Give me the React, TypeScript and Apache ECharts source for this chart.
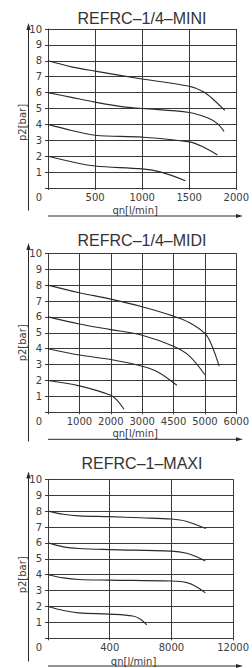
import React, { useEffect, useRef } from 'react';
import * as echarts from 'echarts';

// ---- data ----
const chartTitles = ['REFRC–1/4–MINI', 'REFRC–1/4–MIDI', 'REFRC–1–MAXI'];
const xMaxes = [2000, 6000, 12000];
const xIntervals = [500, 1000, 4000];
const xTickLabelsMini = ['0', '500', '1000', '1500', '2000'];
const xTickLabelsMidi = ['0', '1000', '2000', '3000', '4500', '5000', '6000'];
const xTickLabelsMaxi = ['0', '400', '8000', '12000'];
const yTickLabels = ['0', '1', '2', '3', '4', '5', '6', '7', '8', '9', '10'];
const xAxisName = 'qn[l/min]';
const yAxisName = 'p2[bar]';

const mini8 = [[0, 8], [250, 7.62], [500, 7.35], [1000, 6.86], [1500, 6.4], [1650, 6.05], [1750, 5.6], [1878, 4.88]];
const mini6 = [[0, 6], [250, 5.7], [500, 5.4], [800, 5.1], [1000, 5.0], [1500, 4.75], [1700, 4.4], [1800, 4.05], [1870, 3.56]];
const mini4 = [[0, 4], [250, 3.62], [500, 3.32], [1000, 3.2], [1500, 2.9], [1650, 2.58], [1800, 2.08]];
const mini2 = [[0, 2], [250, 1.65], [500, 1.38], [1000, 1.2], [1200, 1.0], [1460, 0.46]];

const midi8 = [[0, 8], [1000, 7.52], [2000, 7.12], [3000, 6.64], [4000, 6.05], [4500, 5.65], [5000, 4.96], [5200, 4.3], [5457, 2.9]];
const midi6 = [[0, 6], [1000, 5.55], [2000, 5.2], [3000, 4.85], [4000, 4.15], [4500, 3.55], [5000, 2.36]];
const midi4 = [[0, 4], [1000, 3.6], [2000, 3.32], [3000, 2.9], [3500, 2.54], [4106, 1.7]];
const midi2 = [[0, 2], [1000, 1.66], [2000, 1.07], [2200, 0.76], [2420, 0.19]];

const maxi8 = [[0, 8], [1000, 7.8], [2000, 7.7], [4000, 7.65], [6000, 7.58], [8000, 7.5], [9000, 7.35], [10230, 6.9]];
const maxi6 = [[0, 6], [1000, 5.75], [2000, 5.65], [4000, 5.58], [8000, 5.48], [9000, 5.35], [9700, 5.1], [10200, 4.86]];
const maxi4 = [[0, 4], [1000, 3.8], [2000, 3.7], [4000, 3.66], [8000, 3.6], [9000, 3.5], [9700, 3.2], [10200, 2.86]];
const maxi2 = [[0, 2], [1000, 1.75], [2000, 1.6], [4000, 1.52], [5500, 1.4], [6000, 1.2], [6400, 0.84]];

const xTickLabelSets = [xTickLabelsMini, xTickLabelsMidi, xTickLabelsMaxi];
const curveSets = [
  [mini8, mini6, mini4, mini2],
  [midi8, midi6, midi4, midi2],
  [maxi8, maxi6, maxi4, maxi2],
];

// ---- layout ----
const W = 252;
const H = 668;
const plotLeft = 48;
const plotWidth = 192;
const plotHeight = 159;
const plotTops = [29, 253.3, 479.3];
const titleYs = [18, 240, 463];
const yArrow = [
  [23, 210.5],
  [243, 441.5],
  [471.5, 661.5],
];
const xArrowYs = [216, 439.3, 666];
const qnGaps = [17, 16, 18];
const yNameShift = [28, 20, 32];

const ink = '#2a2a2a';
const gridInk = '#3a3a3a';
const textInk = '#3c3c3c';
const labelFont = 'DejaVu Sans';

export default function App() {
  const ref = useRef<HTMLDivElement>(null);
  useEffect(() => {
    if (!ref.current) return;
    const chart = echarts.init(ref.current, undefined, { renderer: 'svg' });

    const grids: any[] = [];
    const xAxes: any[] = [];
    const yAxes: any[] = [];
    const series: any[] = [];
    const graphics: any[] = [];

    for (let i = 0; i < 3; i++) {
      grids.push({ left: plotLeft, top: plotTops[i], width: plotWidth, height: plotHeight });
      const labels = xTickLabelSets[i];
      const interval = xIntervals[i];
      xAxes.push({
        type: 'value',
        gridIndex: i,
        min: 0,
        max: xMaxes[i],
        interval,
        axisLine: { show: true, lineStyle: { color: gridInk, width: 1 } },
        axisTick: { show: true, length: 2, lineStyle: { color: gridInk } },
        splitLine: { show: true, lineStyle: { color: gridInk, width: 1 } },
        axisLabel: {
          showMinLabel: true,
          showMaxLabel: true,
          margin: 4,
          color: textInk,
          fontSize: 10,
          fontFamily: labelFont,
          formatter: (v: number) => {
            const idx = Math.round(v / interval);
            const t = labels[idx] ?? '';
            return idx === 0 ? `{z|${t}}` : t;
          },
          rich: {
            z: { padding: [0, 18, 0, 0], fontSize: 10, fontFamily: labelFont, color: textInk },
          },
        },
        name: xAxisName,
        nameLocation: 'middle',
        nameGap: qnGaps[i],
        nameMoveOverlap: false,
        nameTextStyle: {
          color: textInk,
          fontSize: 10,
          fontFamily: labelFont,
          padding: [0, 14, 0, 0],
        },
      });
      yAxes.push({
        type: 'value',
        gridIndex: i,
        min: 0,
        max: 10,
        interval: 1,
        axisLine: { show: true, lineStyle: { color: gridInk, width: 1 } },
        axisTick: { show: true, length: 3, lineStyle: { color: gridInk } },
        splitLine: { show: true, lineStyle: { color: gridInk, width: 1 } },
        axisLabel: {
          margin: 6,
          color: textInk,
          fontSize: 10,
          fontFamily: labelFont,
          formatter: (v: number) => (v === 0 ? '' : yTickLabels[Math.round(v)]),
        },
        name: yAxisName,
        nameLocation: 'middle',
        nameRotate: 90,
        nameGap: 21,
        nameMoveOverlap: false,
        nameTextStyle: {
          color: textInk,
          fontSize: 10,
          fontFamily: labelFont,
          padding: [0, yNameShift[i], 0, 0],
        },
      });
      curveSets[i].forEach((d) => {
        series.push({
          type: 'line',
          xAxisIndex: i,
          yAxisIndex: i,
          data: d,
          smooth: 0.35,
          showSymbol: false,
          silent: true,
          lineStyle: { color: ink, width: 1.1 },
        });
      });

      graphics.push({
        type: 'text',
        x: 142,
        y: titleYs[i],
        style: {
          text: chartTitles[i],
          fill: '#333',
          font: '16px "Liberation Sans", Arial, sans-serif',
          align: 'center',
          verticalAlign: 'middle',
        },
      });
      const [t, b] = yArrow[i];
      graphics.push({
        type: 'line',
        shape: { x1: 28.5, y1: t + 4, x2: 28.5, y2: b },
        style: { stroke: ink, lineWidth: 1 },
      });
      graphics.push({
        type: 'polygon',
        shape: { points: [[28.5, t], [26.3, t + 7], [30.7, t + 7]] },
        style: { fill: ink },
      });
      const ay = xArrowYs[i];
      graphics.push({
        type: 'line',
        shape: { x1: 48, y1: ay, x2: 238, y2: ay },
        style: { stroke: ink, lineWidth: 1 },
      });
      graphics.push({
        type: 'polygon',
        shape: { points: [[243, ay], [236, ay - 2], [236, ay + 2]] },
        style: { fill: ink },
      });
    }

    chart.setOption({
      animation: false,
      backgroundColor: '#ffffff',
      grid: grids,
      xAxis: xAxes,
      yAxis: yAxes,
      series,
      graphic: graphics,
    });
    return () => chart.dispose();
  }, []);
  return <div ref={ref} style={{ position: 'absolute', left: 0, top: 0, width: W, height: H }} />;
}
